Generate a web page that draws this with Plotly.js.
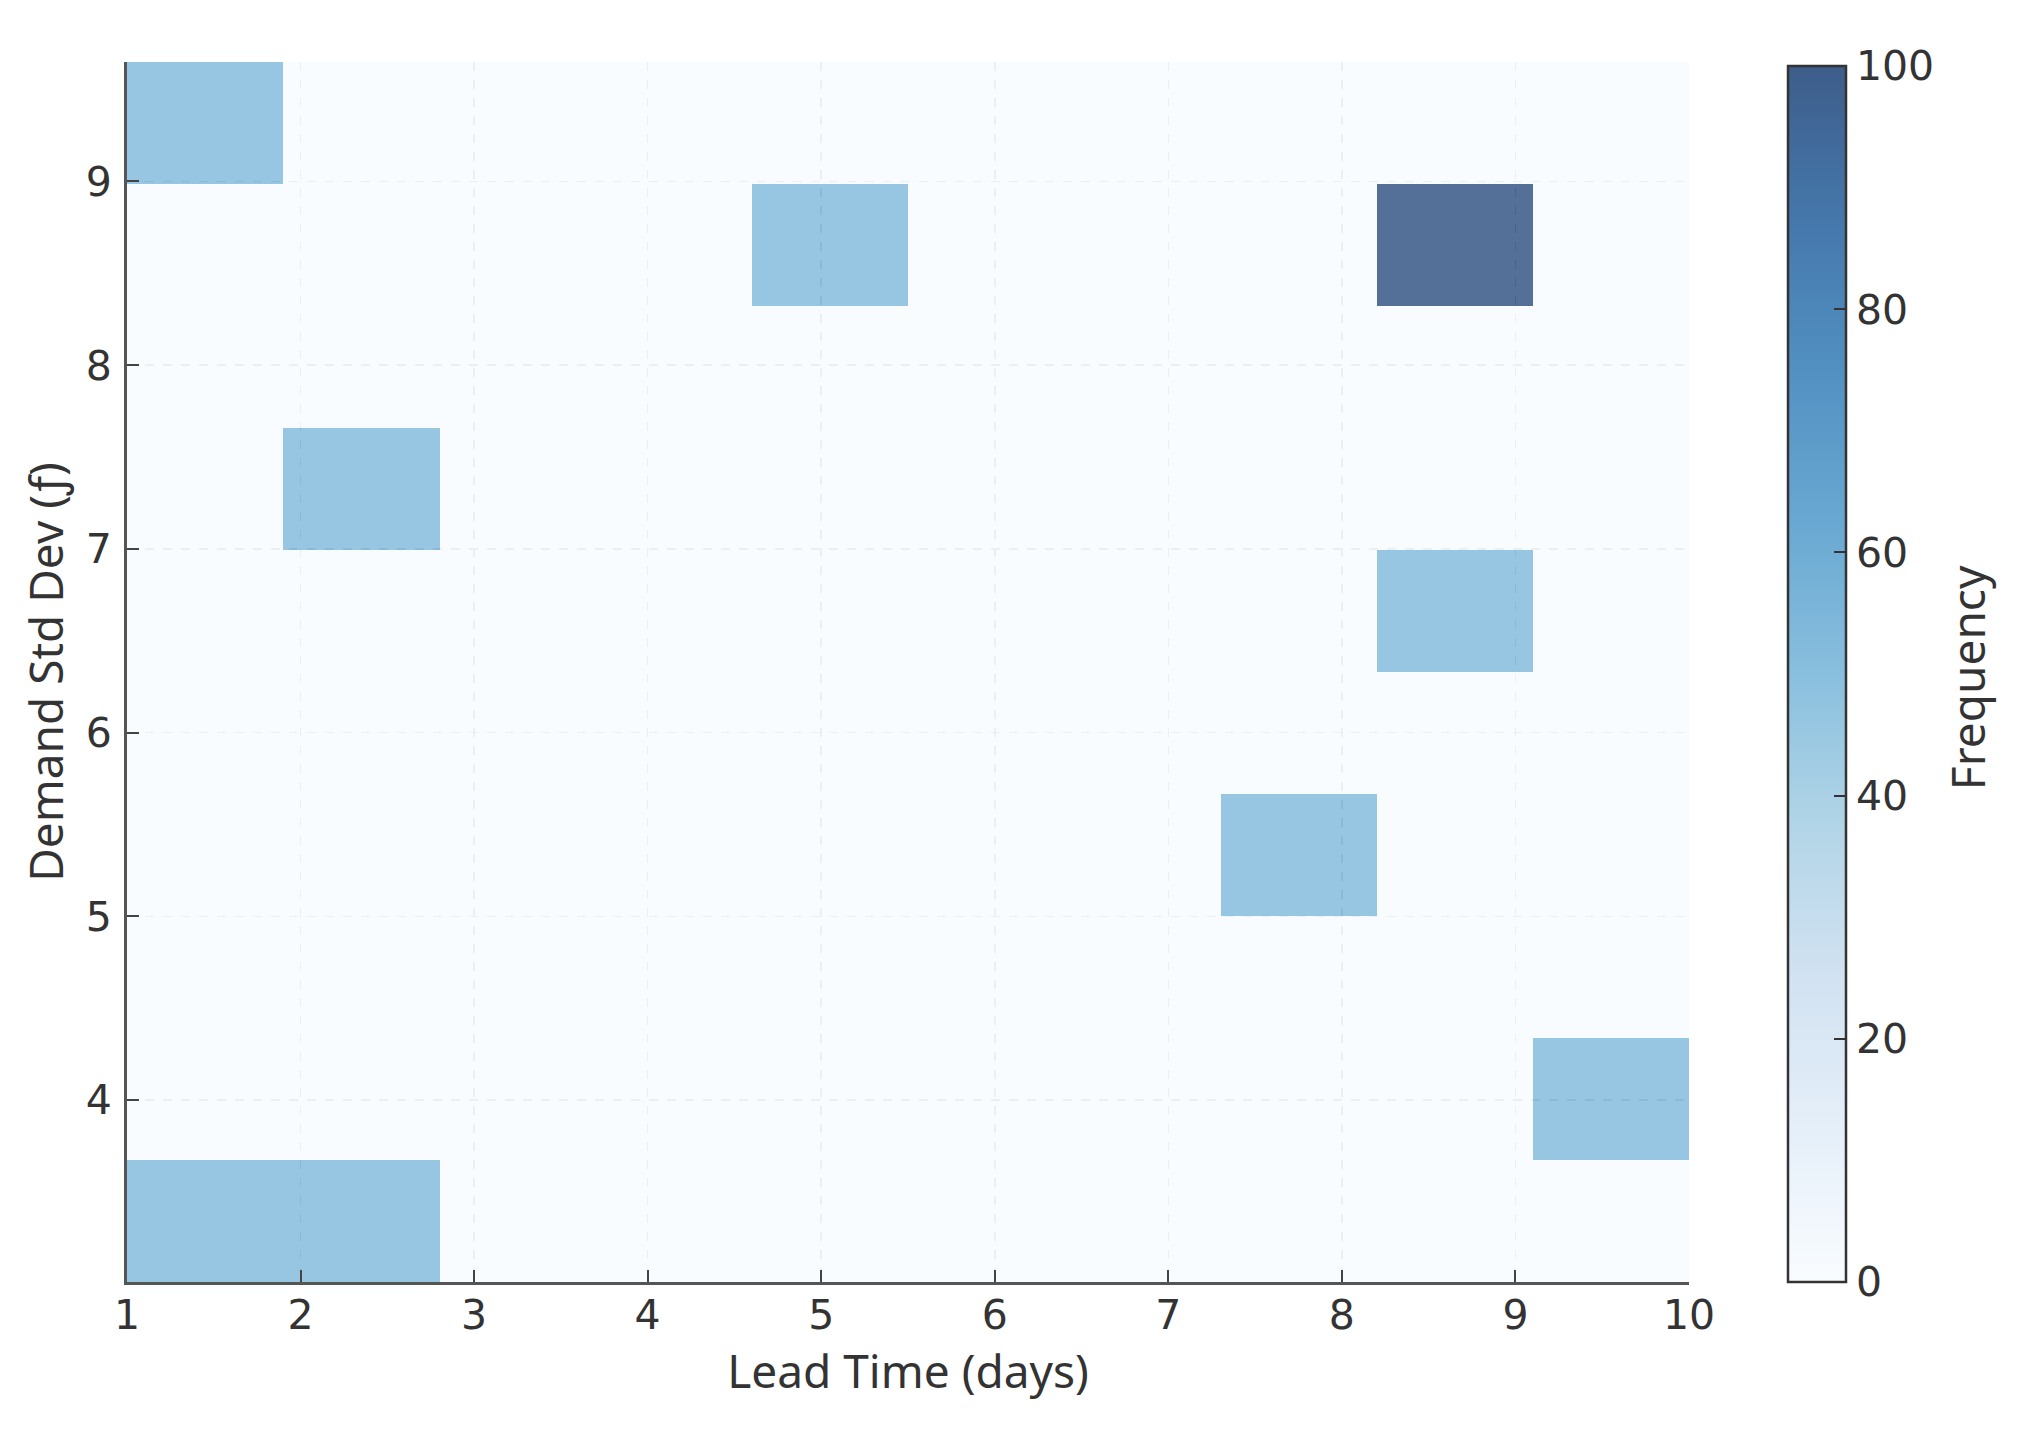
<!DOCTYPE html>
<html>
<head>
<meta charset="utf-8">
<script src="https://cdn.plot.ly/plotly-3.0.1.min.js"></script>
<style>html,body{margin:0;padding:0;background:#fff;}#chart{width:2022px;height:1430px;}</style>
</head>
<body>
<div id="chart"></div>
<script>
// Bin edges of the 2D histogram
const leadTimeEdges = [1, 1.9, 2.8, 3.7, 4.6, 5.5, 6.4, 7.3, 8.2, 9.1, 10];
const demandStdEdges = [3.01, 3.674, 4.338, 5.002, 5.666, 6.33, 6.994, 7.658, 8.322, 8.986, 9.65];
// Frequency per cell: rows = demand std dev bins (bottom to top), cols = lead time bins
const frequency = [
  [50, 50, 0, 0, 0, 0, 0, 0, 0, 0],
  [0, 0, 0, 0, 0, 0, 0, 0, 0, 50],
  [0, 0, 0, 0, 0, 0, 0, 0, 0, 0],
  [0, 0, 0, 0, 0, 0, 0, 50, 0, 0],
  [0, 0, 0, 0, 0, 0, 0, 0, 0, 0],
  [0, 0, 0, 0, 0, 0, 0, 0, 50, 0],
  [0, 50, 0, 0, 0, 0, 0, 0, 0, 0],
  [0, 0, 0, 0, 0, 0, 0, 0, 0, 0],
  [0, 0, 0, 0, 50, 0, 0, 0, 100, 0],
  [50, 0, 0, 0, 0, 0, 0, 0, 0, 0]
];
const xTicks = [1, 2, 3, 4, 5, 6, 7, 8, 9, 10];
const yTicks = [4, 5, 6, 7, 8, 9];
const cbTicks = [0, 20, 40, 60, 80, 100];

const blues = [
  [0.0, '#f9fcff'], [0.125, '#e5eff9'], [0.25, '#d2e2f2'], [0.375, '#b2d5e7'],
  [0.5, '#89bfde'], [0.625, '#69a8d2'], [0.75, '#5290c2'], [0.875, '#4577ab'], [1.0, '#3d5d8a']
];

const tickFont = {family: 'DejaVu Sans', size: 41, color: '#333'};
const titleFont = {family: 'Noto Sans', size: 46, color: '#333'};

const trace = {
  type: 'heatmap',
  x: leadTimeEdges,
  y: demandStdEdges,
  z: frequency,
  zmin: 0, zmax: 100,
  colorscale: blues,
  opacity: 0.88,
  hoverinfo: 'skip',
  colorbar: {
    thickness: 58,
    len: 0.997, lenmode: 'fraction',
    y: 0, yanchor: 'bottom', ypad: 0,
    x: 1.0634, xanchor: 'left', xpad: 0,
    outlinecolor: '#333', outlinewidth: 2.5,
    ticks: 'inside', ticklen: 13, tickwidth: 2, tickcolor: '#333',
    tickvals: cbTicks,
    tickfont: tickFont
  }
};

const axisCommon = {
  ticks: 'inside', ticklen: 12, tickwidth: 2, tickcolor: '#444',
  showline: true, linecolor: '#555', linewidth: 3,
  showgrid: true, gridcolor: '#8a929c', griddash: 'dash', gridwidth: 1.5,
  zeroline: false, mirror: false,
  tickfont: tickFont
};

const layout = {
  width: 2022, height: 1430,
  margin: {l: 127, r: 333, t: 62, b: 148},
  paper_bgcolor: '#ffffff',
  plot_bgcolor: '#ffffff',
  showlegend: false,
  xaxis: Object.assign({}, axisCommon, {
    range: [1, 10], tickvals: xTicks, ticklabelstandoff: -5,
    title: {text: 'Lead Time (days)', font: titleFont, standoff: 8}
  }),
  yaxis: Object.assign({}, axisCommon, {
    range: [3.01, 9.65], tickvals: yTicks, ticklabelstandoff: 4,
    title: {text: 'Demand Std Dev (ƒ)', font: titleFont, standoff: 8}
  }),
  annotations: [{
    text: 'Frequency', xref: 'paper', yref: 'paper',
    x: 1.178, y: 0.495, xanchor: 'center', yanchor: 'middle',
    textangle: -90, showarrow: false, font: titleFont
  }]
};

Plotly.newPlot('chart', [trace], layout, {displayModeBar: false, staticPlot: true});
</script>
</body>
</html>
